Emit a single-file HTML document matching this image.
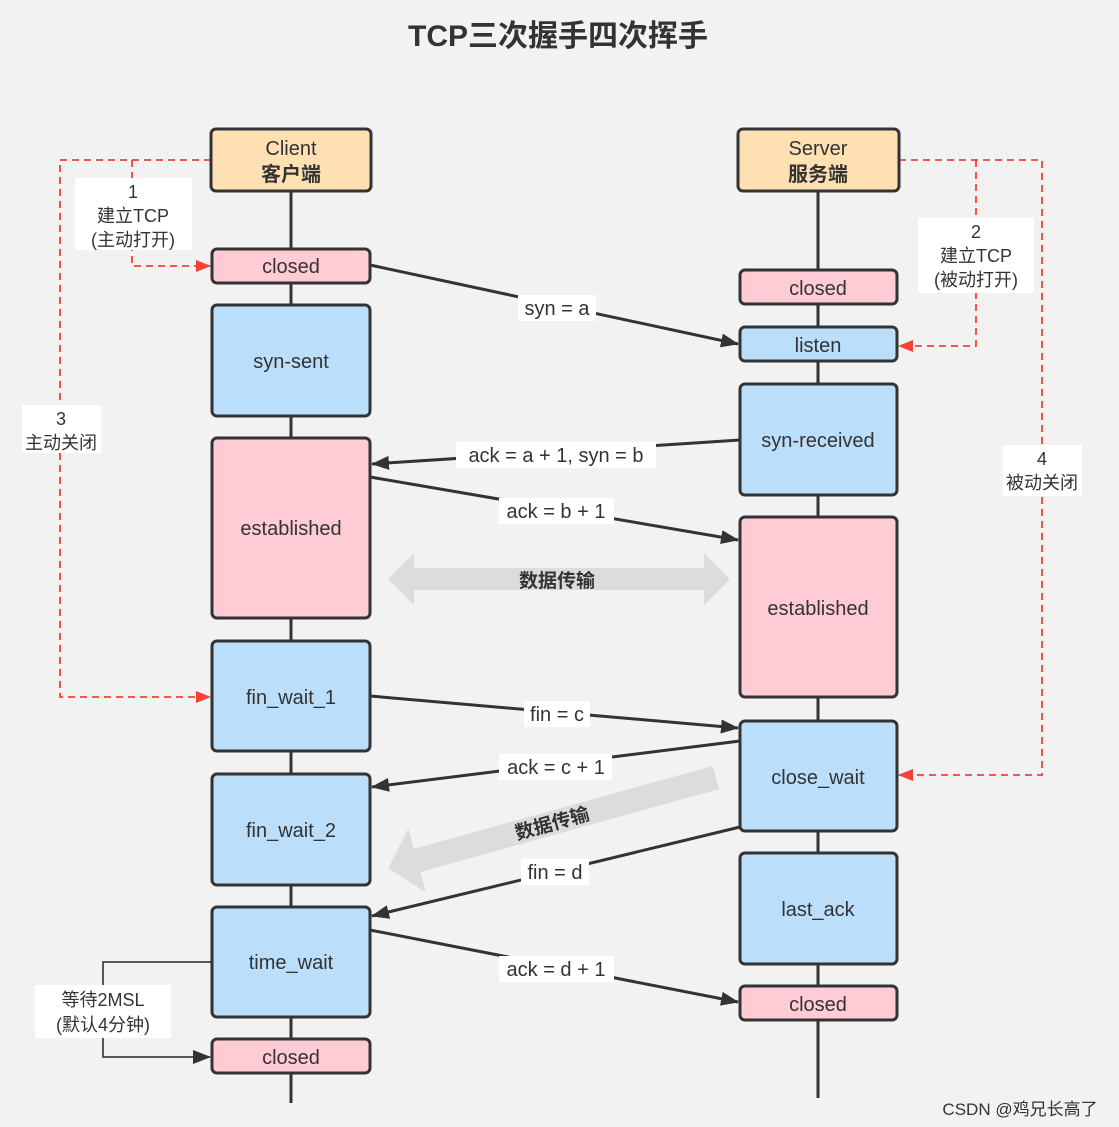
<!DOCTYPE html>
<html><head><meta charset="utf-8"><style>
html,body{margin:0;padding:0;background:#f2f2f2;}
svg{display:block;}
text{font-family:"Liberation Sans","Noto Sans CJK SC",sans-serif;fill:#333;}
</style></head><body>
<svg width="1119" height="1127" viewBox="0 0 1119 1127" xmlns="http://www.w3.org/2000/svg">
<defs>
<marker id="ah" markerWidth="18" markerHeight="14" refX="17" refY="7" orient="auto" markerUnits="userSpaceOnUse">
<path d="M0,0 L18,7 L0,14 Z" fill="#333"/></marker>
<marker id="rh" markerWidth="15" markerHeight="12" refX="14" refY="6" orient="auto" markerUnits="userSpaceOnUse">
<path d="M0,0 L15,6 L0,12 Z" fill="#f44336"/></marker>
</defs>
<rect width="1119" height="1127" fill="#f2f2f2"/>
<text x="558" y="46" font-size="30" font-weight="bold" text-anchor="middle">TCP三次握手四次挥手</text>

<line x1="291" y1="191" x2="291" y2="1103" stroke="#333" stroke-width="3"/>
<line x1="818" y1="191" x2="818" y2="1098" stroke="#333" stroke-width="3"/>

<path d="M388,579 L414,553 L414,568 L704,568 L704,553 L730,579 L704,605 L704,590 L414,590 L414,605 Z" fill="#dcdcdc"/>
<text x="557" y="587" font-size="19" font-weight="bold" text-anchor="middle" fill="#444">数据传输</text>
<g transform="translate(552,823) rotate(-15.5)">
<path d="M-170,0 L-140,-33 L-140,-12 L170,-12 L170,12 L-140,12 L-140,33 Z" fill="#dcdcdc"/>
<text x="0" y="7" font-size="19" font-weight="bold" text-anchor="middle" fill="#444">数据传输</text>
</g>

<g stroke="#f44336" stroke-width="1.8" stroke-dasharray="7,5" fill="none">
<path d="M211,160 L60,160 L60,697 L210,697" marker-end="url(#rh)"/>
<path d="M132,160 L132,266 L210,266" marker-end="url(#rh)"/>
<path d="M899,160 L1042,160 L1042,775 L899,775" marker-end="url(#rh)"/>
<path d="M976,160 L976,346 L899,346" marker-end="url(#rh)"/>
</g>
<path d="M212,962 L103,962 L103,1057 L210,1057" stroke="#444" stroke-width="1.8" fill="none" marker-end="url(#ah)"/>

<g font-size="18">
<rect x="75" y="178" width="117" height="72" fill="#fff"/>
<text x="133" y="198" text-anchor="middle">1</text>
<text x="133" y="222" text-anchor="middle">建立TCP</text>
<text x="133" y="246" text-anchor="middle">(主动打开)</text>
<rect x="22" y="405" width="79" height="48" fill="#fff"/>
<text x="61" y="425" text-anchor="middle">3</text>
<text x="61" y="449" text-anchor="middle">主动关闭</text>
<rect x="918" y="218" width="116" height="75" fill="#fff"/>
<text x="976" y="238" text-anchor="middle">2</text>
<text x="976" y="262" text-anchor="middle">建立TCP</text>
<text x="976" y="286" text-anchor="middle">(被动打开)</text>
<rect x="1003" y="445" width="79" height="51" fill="#fff"/>
<text x="1042" y="465" text-anchor="middle">4</text>
<text x="1042" y="489" text-anchor="middle">被动关闭</text>
<rect x="35" y="985" width="136" height="53" fill="#fff"/>
<text x="103" y="1006" text-anchor="middle">等待2MSL</text>
<text x="103" y="1031" text-anchor="middle">(默认4分钟)</text>
</g>

<g stroke="#333" stroke-width="3" fill="none">
<line x1="370" y1="265" x2="738" y2="344" marker-end="url(#ah)"/>
<line x1="740" y1="440" x2="372" y2="464" marker-end="url(#ah)"/>
<line x1="370" y1="477" x2="738" y2="540" marker-end="url(#ah)"/>
<line x1="370" y1="696" x2="738" y2="728" marker-end="url(#ah)"/>
<line x1="740" y1="741" x2="372" y2="787" marker-end="url(#ah)"/>
<line x1="740" y1="827" x2="372" y2="916" marker-end="url(#ah)"/>
<line x1="370" y1="930" x2="738" y2="1002" marker-end="url(#ah)"/>
</g>
<g font-size="20">
<rect x="518" y="295" width="78" height="26" fill="#fff"/><text x="557" y="315" text-anchor="middle">syn = a</text>
<rect x="456" y="442" width="200" height="26" fill="#fff"/><text x="556" y="462" text-anchor="middle">ack = a + 1, syn = b</text>
<rect x="499" y="498" width="115" height="26" fill="#fff"/><text x="556" y="518" text-anchor="middle">ack = b + 1</text>
<rect x="524" y="701" width="66" height="26" fill="#fff"/><text x="557" y="721" text-anchor="middle">fin = c</text>
<rect x="499" y="754" width="113" height="26" fill="#fff"/><text x="556" y="774" text-anchor="middle">ack = c + 1</text>
<rect x="521" y="859" width="68" height="26" fill="#fff"/><text x="555" y="879" text-anchor="middle">fin = d</text>
<rect x="499" y="956" width="115" height="26" fill="#fff"/><text x="556" y="976" text-anchor="middle">ack = d + 1</text>
</g>

<g stroke="#333" stroke-width="3">
<rect x="211" y="129" width="160" height="62" rx="5" fill="#ffe0b2"/>
<rect x="738" y="129" width="161" height="62" rx="5" fill="#ffe0b2"/>
<rect x="212" y="249" width="158" height="34" rx="5" fill="#ffccd5"/>
<rect x="212" y="305" width="158" height="111" rx="5" fill="#bbdefb"/>
<rect x="212" y="438" width="158" height="180" rx="5" fill="#ffccd5"/>
<rect x="212" y="641" width="158" height="110" rx="5" fill="#bbdefb"/>
<rect x="212" y="774" width="158" height="111" rx="5" fill="#bbdefb"/>
<rect x="212" y="907" width="158" height="110" rx="5" fill="#bbdefb"/>
<rect x="212" y="1039" width="158" height="34" rx="5" fill="#ffccd5"/>
<rect x="740" y="270" width="157" height="34" rx="5" fill="#ffccd5"/>
<rect x="740" y="327" width="157" height="34" rx="5" fill="#bbdefb"/>
<rect x="740" y="384" width="157" height="111" rx="5" fill="#bbdefb"/>
<rect x="740" y="517" width="157" height="180" rx="5" fill="#ffccd5"/>
<rect x="740" y="721" width="157" height="110" rx="5" fill="#bbdefb"/>
<rect x="740" y="853" width="157" height="111" rx="5" fill="#bbdefb"/>
<rect x="740" y="986" width="157" height="34" rx="5" fill="#ffccd5"/>
</g>
<g font-size="20" text-anchor="middle">
<text x="291" y="155">Client</text><text x="291" y="181" font-weight="bold">客户端</text>
<text x="818" y="155">Server</text><text x="818" y="181" font-weight="bold">服务端</text>
<text x="291" y="273">closed</text>
<text x="291" y="368">syn-sent</text>
<text x="291" y="535">established</text>
<text x="291" y="704">fin_wait_1</text>
<text x="291" y="837">fin_wait_2</text>
<text x="291" y="969">time_wait</text>
<text x="291" y="1064">closed</text>
<text x="818" y="295">closed</text>
<text x="818" y="352">listen</text>
<text x="818" y="447">syn-received</text>
<text x="818" y="615">established</text>
<text x="818" y="784">close_wait</text>
<text x="818" y="916">last_ack</text>
<text x="818" y="1011">closed</text>
</g>
<text x="1020" y="1115" font-size="17" text-anchor="middle" fill="#888">CSDN @鸡兄长高了</text>
</svg>
</body></html>
